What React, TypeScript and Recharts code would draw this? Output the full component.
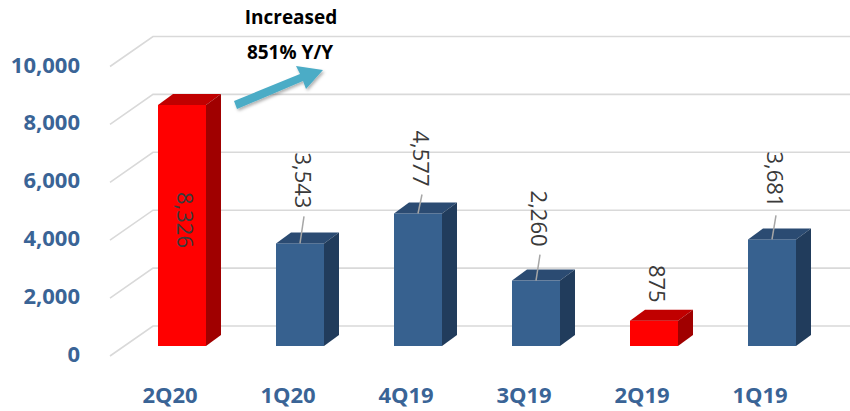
import { BarChart, Bar, XAxis, YAxis, CartesianGrid } from "recharts";

const quarters = ["2Q20", "1Q20", "4Q19", "3Q19", "2Q19", "1Q19"];
const revenue = [8326, 3543, 4577, 2260, 875, 3681];
const highlighted = ["2Q20", "2Q19"];
const yTicks = [0, 2000, 4000, 6000, 8000, 10000];

// distance from the bar top to the bottom of its rotated label (negative = inside the bar)
const labelGaps = [-143, 35, 27, 34, 18, 32];

const data = quarters.map((q, i) => ({ quarter: q, value: revenue[i] }));

const DX = 15;
const DY = 11;
const AXIS_BLUE = "#3A6496";
const FONT = "'Open Sans', sans-serif";

const palette = {
  red: { front: "#FF0000", top: "#C00000", side: "#A00000" },
  blue: { front: "#37618F", top: "#2B4B72", side: "#213C5C" },
};

function Bar3D(props: any) {
  const { x, y, width, height, payload, index } = props;
  const c = highlighted.includes(payload.quarter) ? palette.red : palette.blue;
  const r = x + width;
  const b = y + height;
  const cx = x + width / 2 + 4;
  const gap = labelGaps[index] ?? 30;
  const labelBottom = y - gap;
  return (
    <g>
      <rect x={x} y={y} width={width} height={height} fill={c.front} />
      <polygon
        points={`${x},${y} ${x + DX},${y - DY} ${r + DX},${y - DY} ${r},${y}`}
        fill={c.top}
      />
      <polygon
        points={`${r},${y} ${r + DX},${y - DY} ${r + DX},${b - DY} ${r},${b}`}
        fill={c.side}
      />
      {gap > 20 && (
        <line
          x1={cx}
          y1={labelBottom + 8}
          x2={x + width / 2}
          y2={y}
          stroke="#A6A6A6"
          strokeWidth={1.5}
        />
      )}
      <text
        x={cx}
        y={labelBottom}
        transform={`rotate(90 ${cx} ${labelBottom})`}
        textAnchor="end"
        dominantBaseline="central"
        fill="#3A3A3A"
        fontSize={22}
        fontFamily={FONT}
      >
        {payload.value.toLocaleString("en-US")}
      </text>
    </g>
  );
}

// floor-to-back-wall gridline: short diagonal on the left, then along the back wall
function WallLine(p: any) {
  const y = p.y1;
  const x0 = p.x1 - 13;
  return (
    <path
      key={p.key ?? `g-${y}`}
      d={`M${x0},${y + 10} L${x0 + 43},${y - 20} L${p.x2 + 19},${y - 20}`}
      fill="none"
      stroke="#D9D9D9"
      strokeWidth={1.6}
    />
  );
}

function YTick(props: any) {
  const { y, payload } = props;
  return (
    <text
      x={80}
      y={y + 7}
      textAnchor="end"
      dominantBaseline="central"
      fill={AXIS_BLUE}
      fontSize={22}
      fontWeight={700}
      fontFamily={FONT}
    >
      {payload.value.toLocaleString("en-US")}
    </text>
  );
}

function XTick(props: any) {
  const { x, payload } = props;
  return (
    <text
      x={x - 12}
      y={394}
      textAnchor="middle"
      dominantBaseline="central"
      fill={AXIS_BLUE}
      fontSize={22}
      fontWeight={700}
      fontFamily={FONT}
    >
      {payload.value}
    </text>
  );
}

export default function App() {
  return (
    <div style={{ position: "absolute", left: 0, top: 0, width: 850, height: 411, background: "#fff" }}>
      <BarChart
        width={850}
        height={411}
        data={data}
        margin={{ top: 56.5, right: 19, left: 23, bottom: 20 }}
        barCategoryGap={0}
      >
        <CartesianGrid vertical={false} horizontal={WallLine} />
        <XAxis dataKey="quarter" axisLine={false} tickLine={false} tick={XTick} height={45} />
        <YAxis
          type="number"
          domain={[0, 10000]}
          ticks={yTicks}
          axisLine={false}
          tickLine={false}
          tick={YTick}
          width={100}
        />
        <Bar dataKey="value" barSize={48} shape={Bar3D} isAnimationActive={false} />
      </BarChart>
      <svg
        width={850}
        height={411}
        style={{ position: "absolute", left: 0, top: 0, pointerEvents: "none" }}
      >
        <defs>
          <filter id="arrowShadow" x="-20%" y="-40%" width="140%" height="180%">
            <feDropShadow dx="1.5" dy="2" stdDeviation="1.5" floodColor="#000" floodOpacity="0.3" />
          </filter>
        </defs>
        <text x={291} y={17} textAnchor="middle" dominantBaseline="central" fontSize={19} fontWeight={700} fontFamily={FONT} fill="#000">
          Increased
        </text>
        <text x={290} y={52} textAnchor="middle" dominantBaseline="central" fontSize={19} fontWeight={700} fontFamily={FONT} fill="#000">
          851% Y/Y
        </text>
        <polygon
          points="234,101 300,74 296,66 323,70 306,89 303,81 237,109"
          fill="#4BACC6"
          filter="url(#arrowShadow)"
        />
      </svg>
    </div>
  );
}
